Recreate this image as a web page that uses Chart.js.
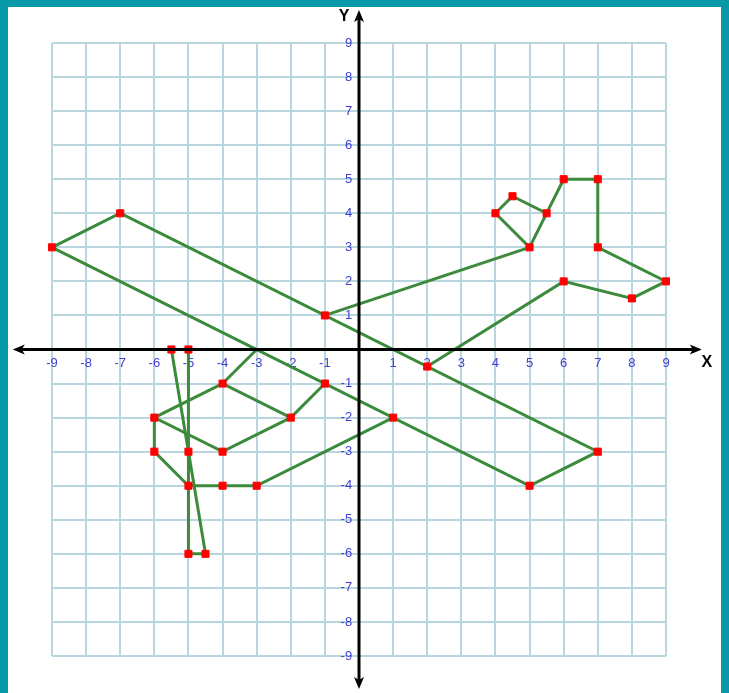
<!DOCTYPE html>
<html>
<head>
<meta charset="utf-8">
<script src="https://cdn.jsdelivr.net/npm/chart.js@4/dist/chart.umd.min.js"></script>
<style>
  html, body { margin: 0; padding: 0; background: #ffffff; }
  #wrap { position: relative; width: 729px; height: 693px; }
  canvas { display: block; }
</style>
</head>
<body>
<div id="wrap"><canvas id="c" width="729" height="693"></canvas></div>
<script>
// ---- Data ----
const axisMin = -9;
const axisMax = 9;
const tickStep = 1;

// big parallelogram
const shapeBody = [[-9, 3], [-7, 4], [7, -3], [5, -4], [-9, 3]];
// upper-right figure
const shapePlane = [[-1, 1], [5, 3], [4, 4], [4.5, 4.5], [5.5, 4], [6, 5], [7, 5], [7, 3], [9, 2], [8, 1.5], [6, 2], [2, -0.5]];
const shapePlaneInner = [[5, 3], [5.5, 4]];
// lower-left figure
const shapeLowA = [[-3, 0], [-4, -1], [-2, -2], [-1, -1]];
const shapeLowB = [[-4, -1], [-6, -2], [-4, -3], [-2, -2]];
const shapeLowC = [[-6, -2], [-6, -3], [-5, -4], [-4, -4], [-3, -4], [1, -2]];
const shapeStick = [[-5.5, 0], [-5, 0], [-5, -6], [-4.5, -6], [-5.5, 0]];

// red vertex markers
const markers = [
  [-9, 3], [-7, 4], [7, -3], [5, -4],
  [-1, 1], [5, 3], [4, 4], [4.5, 4.5], [5.5, 4], [6, 5], [7, 5], [7, 3], [9, 2], [8, 1.5], [6, 2], [2, -0.5],
  [-4, -1], [-2, -2], [-1, -1], [-6, -2], [-4, -3], [-6, -3], [-5, -4], [-4, -4], [-3, -4], [1, -2],
  [-5.5, 0], [-5, 0], [-5, -3], [-5, -6], [-4.5, -6]
];

const lineShapes = [shapeBody, shapePlane, shapePlaneInner, shapeLowA, shapeLowB, shapeLowC, shapeStick];

// ---- Styles ----
const GREEN = '#3c8a3c';
const RED = '#ff0000';
const GRID = '#b9d5de';
const LABEL = '#4040d4';
const TEAL = '#0799a5';

const toXY = arr => arr.map(p => ({x: p[0], y: p[1]}));

const datasets = [{
  data: toXY(markers),
  showLine: false,
  pointStyle: 'rect',
  pointRadius: 5,
  pointBackgroundColor: RED,
  pointBorderColor: RED,
  pointBorderWidth: 1,
  clip: false,
  order: 0
}].concat(lineShapes.map(s => ({
  data: toXY(s),
  showLine: true,
  borderColor: GREEN,
  borderWidth: 3,
  pointRadius: 0,
  fill: false,
  tension: 0,
  clip: false,
  order: 1
})));

const framePlugin = {
  id: 'frame',
  beforeDraw(chart) {
    const ctx = chart.ctx;
    ctx.save();
    ctx.fillStyle = TEAL;
    ctx.fillRect(0, 0, chart.width, chart.height);
    ctx.fillStyle = '#ffffff';
    ctx.fillRect(8, 7, 713, chart.height - 7);
    ctx.restore();
  }
};

const axesPlugin = {
  id: 'arrowAxes',
  afterDatasetsDraw(chart) {
    const ctx = chart.ctx;
    const xs = chart.scales.x, ys = chart.scales.y;
    const x0 = xs.getPixelForValue(0), y0 = ys.getPixelForValue(0);
    const left = xs.getPixelForValue(-10.15), right = xs.getPixelForValue(10.05);
    const top = ys.getPixelForValue(9.97), bottom = ys.getPixelForValue(-9.97);
    ctx.save();
    ctx.strokeStyle = '#000';
    ctx.fillStyle = '#000';
    ctx.lineWidth = 3;
    ctx.beginPath();
    ctx.moveTo(left + 6, y0); ctx.lineTo(right - 6, y0);
    ctx.moveTo(x0, top + 6); ctx.lineTo(x0, bottom - 6);
    ctx.stroke();
    const head = (tx, ty, dx, dy) => {
      const L = 12, W = 5;
      const bx = tx - dx * L, by = ty - dy * L;
      ctx.beginPath();
      ctx.moveTo(tx, ty);
      ctx.lineTo(bx - dy * W, by + dx * W);
      ctx.lineTo(bx + dx * 3, by + dy * 3);
      ctx.lineTo(bx + dy * W, by - dx * W);
      ctx.closePath();
      ctx.fill();
    };
    head(left, y0, -1, 0);
    head(right, y0, 1, 0);
    head(x0, top, 0, -1);
    head(x0, bottom, 0, 1);
    ctx.font = 'bold 16px "Liberation Sans", Arial, sans-serif';
    ctx.textAlign = 'center';
    ctx.textBaseline = 'middle';
    ctx.fillText('Y', x0 - 15, top + 7);
    ctx.fillText('X', right + 5, y0 + 13);
    ctx.restore();
  }
};

const tickCb = v => (v === 0 ? '' : String(v));

new Chart(document.getElementById('c'), {
  type: 'scatter',
  data: { datasets },
  plugins: [framePlugin, axesPlugin],
  options: {
    responsive: false,
    animation: false,
    layout: { padding: { left: 52, right: 63, top: 43, bottom: 37 } },
    plugins: { legend: { display: false }, tooltip: { enabled: false } },
    scales: {
      x: {
        type: 'linear',
        min: axisMin, max: axisMax,
        position: { y: 0 },
        border: { display: false },
        grid: { color: GRID, lineWidth: 2, drawTicks: true, tickLength: 5, tickColor: 'rgba(0,0,0,0)' },
        ticks: { stepSize: tickStep, color: LABEL, padding: 1, maxRotation: 0, autoSkip: false,
                 font: { family: '"Liberation Sans", Arial, sans-serif', size: 13 }, callback: tickCb }
      },
      y: {
        type: 'linear',
        min: axisMin, max: axisMax,
        position: { x: -0.2 },
        border: { display: false },
        grid: { color: GRID, lineWidth: 2, drawTicks: false },
        ticks: { stepSize: tickStep, color: LABEL, padding: 0, autoSkip: false,
                 font: { family: '"Liberation Sans", Arial, sans-serif', size: 13 }, callback: tickCb }
      }
    }
  }
});
</script>
</body>
</html>
